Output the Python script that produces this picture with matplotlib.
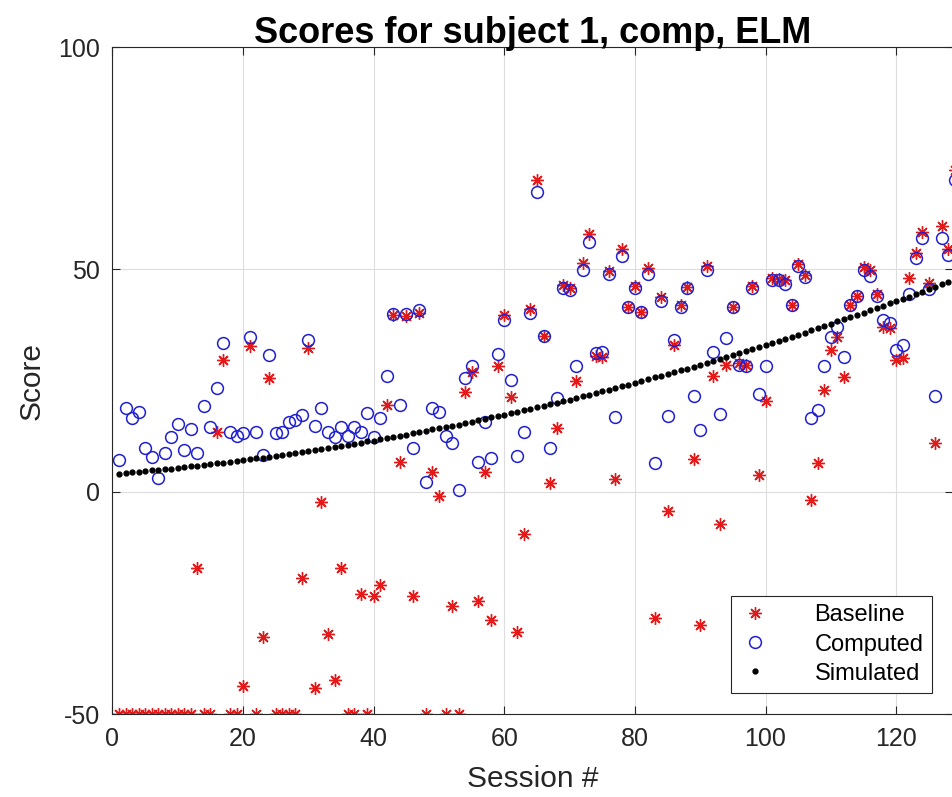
import matplotlib.pyplot as plt
import numpy as np

# sessions 1..129
sessions = np.arange(1, 130)

baseline = [
    -50, -50, -50, -50, -50, -50, -50, -50, -50, -50,
    -50, -50, -17.1, -50, -50, 13.5, 29.7, -50, -50, -43.6,
    32.8, -50, -32.6, 25.6, -50, -50, -50, -50, -19.3, 32.4,
    -44.1, -2.2, -31.9, -42.3, -17.1, -50, -50, -22.9, -50, -23.4,
    -20.9, 19.6, 39.8, 6.7, 39.6, -23.4, 40.3, -50, 4.5, -0.9,
    -50, -25.6, -50, 22.5, 27.0, -24.5, 4.5, -28.8, 28.3, 39.8,
    21.4, -31.5, -9.4, 41.2, 70.2, 35.1, 2.0, 14.4, 46.5, 45.9,
    25.0, 51.5, 58.0, 30.6, 30.4, 49.7, 2.9, 54.6, 41.6, 46.3,
    40.5, 50.4, -28.3, 43.9, -4.3, 33.1, 42.1, 46.1, 7.4, -29.9,
    50.8, 26.1, -7.2, 28.6, 41.6, 29.0, 28.6, 46.3, 3.8, 20.5,
    48.1, 47.9, 47.7, 42.1, 51.3, 48.8, -1.8, 6.5, 22.9, 31.9,
    34.9, 25.9, 42.1, 44.1, 50.6, 49.9, 44.5, 37.1, 36.9, 29.7,
    30.1, 48.1, 53.7, 58.5, 47.0, 11.0, 59.8, 54.6, 72.4,
]

computed = [
    7.2, 18.8, 16.6, 17.9, 9.8, 7.8, 3.0, 8.8, 12.4, 15.2,
    9.4, 14.0, 8.8, 19.3, 14.6, 23.4, 33.5, 13.5, 12.6, 13.3,
    34.9, 13.5, 8.3, 30.8, 13.3, 13.5, 15.7, 16.2, 17.3, 34.2,
    14.8, 18.9, 13.5, 12.4, 14.6, 12.6, 14.6, 13.5, 17.8, 12.4,
    16.6, 26.1, 40.0, 19.6, 40.0, 9.9, 40.9, 2.2, 18.9, 18.0,
    12.6, 11.0, 0.4, 25.6, 28.3, 6.7, 15.7, 7.6, 31.0, 38.7,
    25.2, 8.1, 13.5, 40.3, 67.5, 35.1, 9.9, 21.1, 45.9, 45.4,
    28.3, 49.9, 56.2, 31.3, 31.5, 49.0, 16.9, 53.1, 41.6, 45.9,
    40.5, 49.0, 6.5, 42.9, 17.1, 34.2, 41.6, 45.9, 21.6, 13.9,
    49.9, 31.5, 17.5, 34.6, 41.6, 28.6, 28.3, 45.9, 22.0, 28.3,
    47.7, 47.7, 46.8, 42.1, 50.8, 48.3, 16.6, 18.4, 28.3, 34.9,
    37.1, 30.4, 42.1, 44.1, 49.9, 48.6, 44.1, 38.7, 38.0, 31.9,
    33.1, 44.5, 52.6, 57.1, 45.6, 21.6, 57.1, 53.3, 70.2,
]

simulated = [
    4.1, 4.2, 4.4, 4.5, 4.6, 4.8, 4.9, 5.1, 5.2, 5.4,
    5.5, 5.7, 5.8, 6.0, 6.2, 6.4, 6.5, 6.7, 6.9, 7.1,
    7.3, 7.5, 7.7, 7.9, 8.1, 8.3, 8.5, 8.7, 8.9, 9.1,
    9.4, 9.6, 9.8, 10.0, 10.3, 10.5, 10.8, 11.0, 11.3, 11.5,
    11.8, 12.0, 12.3, 12.6, 12.8, 13.1, 13.4, 13.7, 14.0, 14.3,
    14.5, 14.8, 15.1, 15.4, 15.7, 16.1, 16.4, 16.7, 17.0, 17.3,
    17.7, 18.0, 18.3, 18.6, 19.0, 19.3, 19.7, 20.0, 20.4, 20.7,
    21.1, 21.5, 21.8, 22.2, 22.6, 22.9, 23.3, 23.7, 24.1, 24.5,
    24.9, 25.3, 25.7, 26.1, 26.5, 26.9, 27.3, 27.7, 28.1, 28.6,
    29.0, 29.4, 29.9, 30.3, 30.7, 31.2, 31.6, 32.1, 32.5, 33.0,
    33.5, 33.9, 34.4, 34.9, 35.3, 35.8, 36.3, 36.8, 37.3, 37.8,
    38.3, 38.8, 39.3, 39.8, 40.3, 40.8, 41.3, 41.8, 42.4, 42.9,
    43.4, 43.9, 44.5, 45.0, 45.6, 46.1, 46.7, 47.2, 47.8,
]

plt.rcParams['font.family'] = ['Liberation Sans', 'DejaVu Sans']
plt.rcParams['axes.unicode_minus'] = False

fig = plt.figure(figsize=(9.53, 7.97), dpi=100)
ax = fig.add_axes([0.118, 0.104, 0.882, 0.837])

# MATLAB-style asterisk (plus + cross)
ax.plot(sessions, baseline, linestyle='none', marker=(8, 2, 0), color='#e41a1a',
        markersize=9, markeredgewidth=1.0, label='Baseline')
ax.plot(sessions, computed, 'o', mfc='none', mec='#2020d0', markersize=8.5,
        markeredgewidth=1.1, label='Computed')
ax.plot(sessions, simulated, '.', color='black', markersize=7, label='Simulated')

ax.set_xlim(0, 128.7)
ax.set_ylim(-50, 100)
ax.set_xticks([0, 20, 40, 60, 80, 100, 120])
ax.set_yticks([-50, 0, 50, 100])
ax.grid(True, color='#dddddd', linewidth=0.8)
ax.set_axisbelow(True)
ax.tick_params(direction='in', labelsize=18, top=True, right=True, length=6,
               colors='#262626', pad=9)
for sp in ax.spines.values():
    sp.set_color('#262626')

ax.set_title('Scores for subject 1, comp, ELM', fontsize=26, fontweight='bold', pad=3)
ax.set_xlabel('Session #', fontsize=21.5, color='#262626', labelpad=10)
ax.set_ylabel('Score', fontsize=21.5, color='#262626', labelpad=9)

leg = ax.legend(loc='lower right', fontsize=17, frameon=True, fancybox=False,
                edgecolor='#262626', framealpha=1, borderaxespad=0.9,
                handlelength=1.4, handletextpad=1.8, labelspacing=0.3, borderpad=0.35)
leg.get_frame().set_linewidth(0.8)

fig.savefig('out.png', dpi=100)
